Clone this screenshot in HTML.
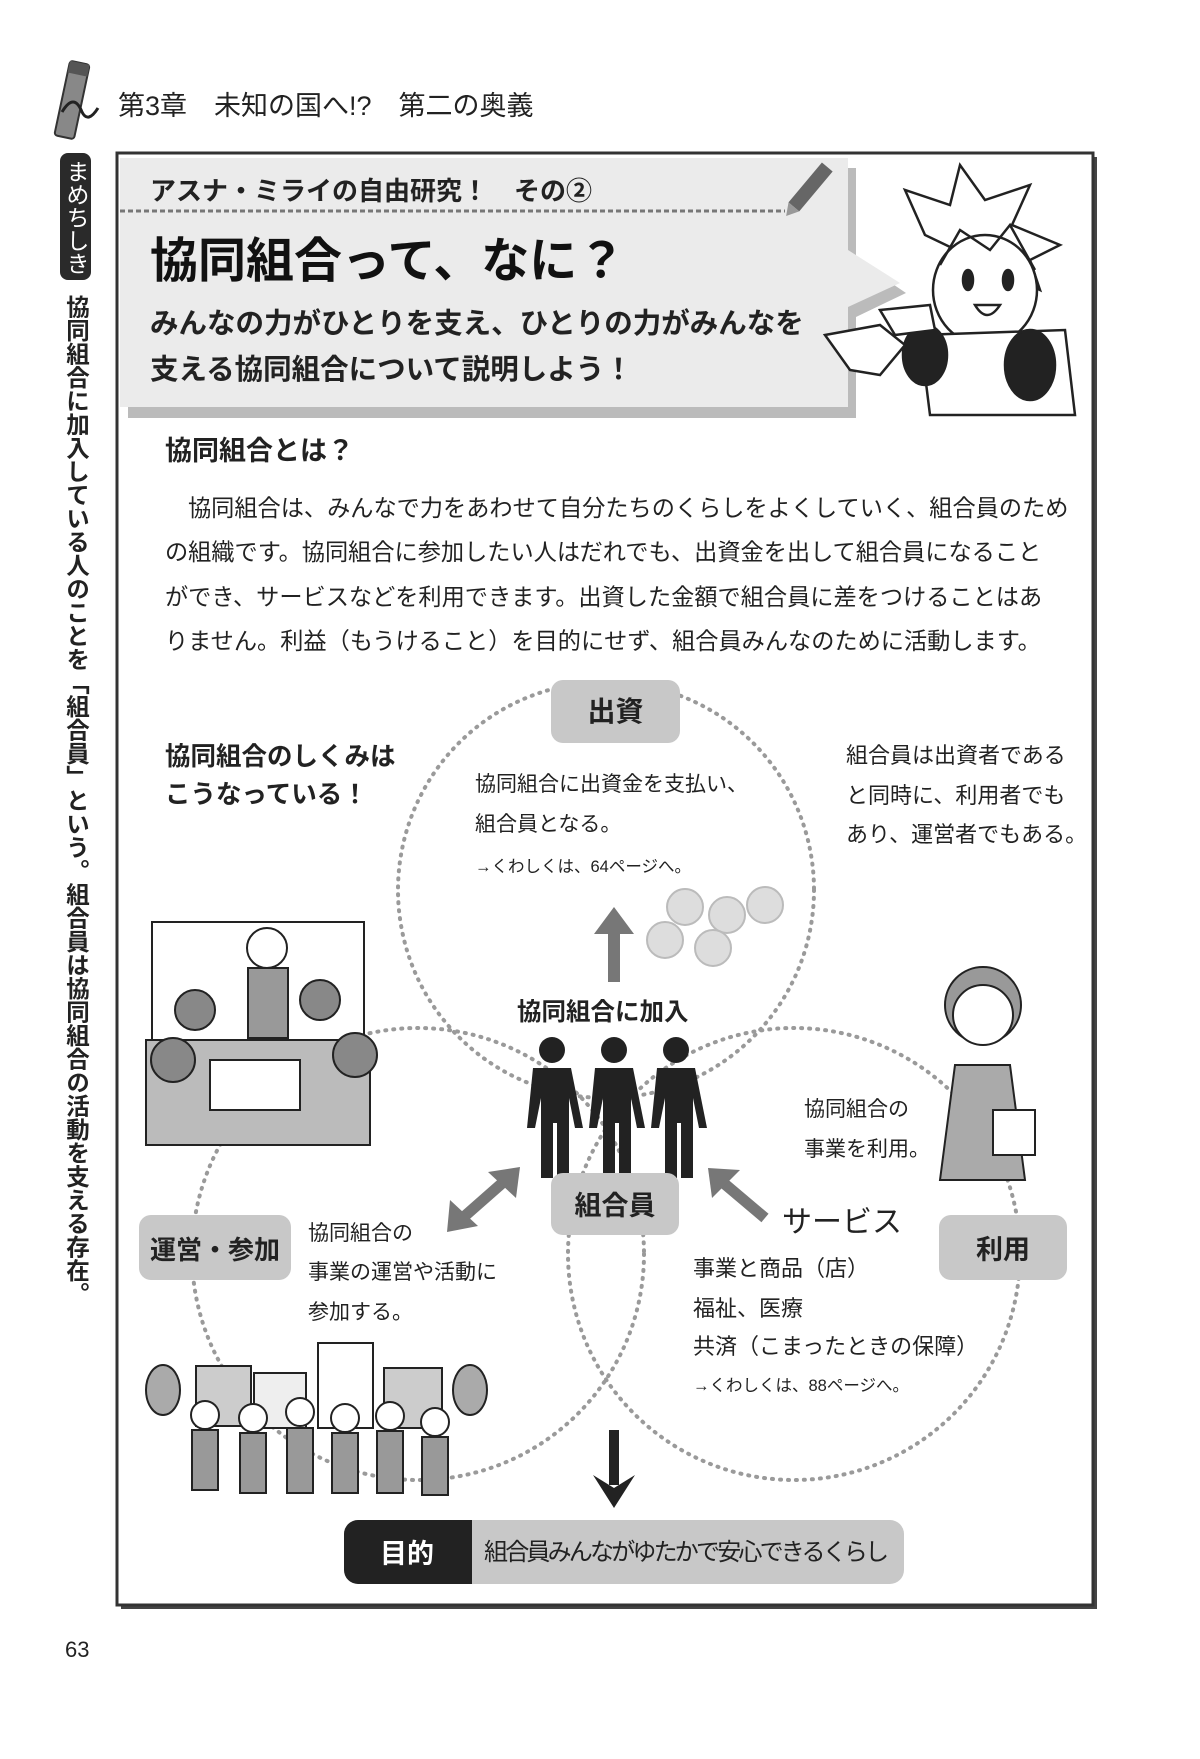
<!DOCTYPE html>
<html><head><meta charset="utf-8">
<style>
*{margin:0;padding:0;box-sizing:border-box}
body{width:1200px;height:1759px;background:#fff;position:relative;overflow:hidden;font-family:"Liberation Sans","Noto Sans CJK JP",sans-serif;color:#222}
.a{position:absolute;white-space:nowrap}
.b{font-weight:bold}
.box{position:absolute;background:#c8c8c8;border-radius:12px;text-align:center;font-weight:bold;color:#222}
.p{position:absolute;white-space:nowrap;font-size:23.2px;line-height:28px}
</style></head><body>
<svg class="a" style="left:0;top:0" width="1200" height="1759">
 <g transform="translate(72,100) rotate(12)">
  <rect x="-10" y="-38" width="20" height="76" rx="3" fill="#888" stroke="#333" stroke-width="2"/>
  <rect x="-10" y="-38" width="20" height="12" fill="#555"/>
 </g>
 <path d="M62 112 q12 -20 20 0 q6 12 16 -4" fill="none" stroke="#222" stroke-width="3"/>
 <rect x="121" y="157" width="976" height="1452" fill="#444"/>
 <rect x="117" y="153" width="976" height="1452" fill="#fff" stroke="#333" stroke-width="3"/>
 <path d="M124 163 H852 V254 L902 288 L852 312 V413 H124 Z" fill="#bbb" transform="translate(4,5)"/>
 <path d="M120 158 H848 V250 L900 283 L848 307 V407 H120 Z" fill="#ebebeb"/>
 <line x1="120" y1="211" x2="785" y2="211" stroke="#777" stroke-width="3" stroke-dasharray="5,3"/>
 <g transform="translate(808,190) rotate(40)">
  <rect x="-7" y="-30" width="14" height="52" fill="#666"/>
  <path d="M-7 22 L0 34 L7 22 Z" fill="#999"/>
 </g>
 <g stroke="#222" stroke-width="2.5" fill="#fff">
  <path d="M925 235 L905 190 L950 205 L960 165 L985 200 L1030 185 L1012 225 L1060 245 L1030 260 L1040 290 Z"/>
  <ellipse cx="985" cy="290" rx="52" ry="55"/>
  <path d="M940 265 L960 230 L990 250 L1010 225 L1035 270" fill="none"/>
  <ellipse cx="968" cy="280" rx="5" ry="10" fill="#222"/>
  <ellipse cx="1008" cy="280" rx="5" ry="10" fill="#222"/>
  <path d="M975 305 q12 20 25 0 z"/>
  <path d="M920 335 L1065 330 L1075 415 L930 415 Z"/>
  <ellipse cx="925" cy="355" rx="22" ry="30" fill="#222"/>
  <ellipse cx="1030" cy="365" rx="25" ry="35" fill="#222"/>
  <path d="M825 335 L880 325 L905 345 L880 375 L850 370 Z"/>
  <path d="M880 310 L930 305 L935 330 L895 335 Z"/>
 </g>
 <g fill="none" stroke="#9a9a9a" stroke-width="4" stroke-dasharray="1,7" stroke-linecap="round">
  <circle cx="606" cy="890" r="208"/>
  <circle cx="418" cy="1254" r="226"/>
  <circle cx="794" cy="1254" r="226"/>
 </g>
 <g fill="#ddd" stroke="#bbb" stroke-width="2">
  <circle cx="685" cy="907" r="18"/><circle cx="727" cy="915" r="18"/><circle cx="765" cy="905" r="18"/>
  <circle cx="665" cy="940" r="18"/><circle cx="713" cy="948" r="18"/>
 </g>
 <g fill="#777"><rect x="608" y="925" width="12" height="57"/><path d="M594 934 L614 907 L634 934 Z"/></g>
 <g fill="#222">
  <circle cx="552" cy="1050" r="13"/><path d="M533 1068 h38 l12 60 h-8 l-6 -30 v80 h-12 v-55 h-4 v55 h-12 v-80 l-6 30 h-8 z"/>
  <circle cx="614" cy="1050" r="13"/><path d="M595 1068 h38 l12 60 h-8 l-6 -30 v80 h-12 v-55 h-4 v55 h-12 v-80 l-6 30 h-8 z"/>
  <circle cx="676" cy="1050" r="13"/><path d="M657 1068 h38 l12 60 h-8 l-6 -30 v80 h-12 v-55 h-4 v55 h-12 v-80 l-6 30 h-8 z"/>
 </g>
 <line x1="458" y1="1222" x2="508" y2="1178" stroke="#777" stroke-width="11"/>
 <path d="M447 1232 L450 1200 L478 1226 Z" fill="#777"/>
 <path d="M520 1167 L516 1198 L488 1172 Z" fill="#777"/>
 <line x1="765" y1="1218" x2="720" y2="1180" stroke="#777" stroke-width="11"/>
 <path d="M708 1168 L740 1170 L712 1198 Z" fill="#777"/>
 <g fill="#222"><rect x="609" y="1430" width="10" height="55"/><path d="M593 1475 L614 1508 L635 1475 L614 1488 Z"/></g>
 <g stroke="#222" stroke-width="2">
  <rect x="152" y="922" width="212" height="125" fill="#fff"/>
  <rect x="146" y="1040" width="224" height="105" fill="#bbb"/>
  <circle cx="267" cy="948" r="20" fill="#fff"/><rect x="248" y="968" width="40" height="70" fill="#999"/>
  <circle cx="195" cy="1010" r="20" fill="#888"/><circle cx="320" cy="1000" r="20" fill="#888"/>
  <circle cx="173" cy="1060" r="22" fill="#888"/><circle cx="355" cy="1055" r="22" fill="#888"/>
  <rect x="210" y="1060" width="90" height="50" fill="#fff"/>
 </g>
 <g stroke="#222" stroke-width="2">
  <circle cx="983" cy="1005" r="38" fill="#999"/><circle cx="983" cy="1015" r="30" fill="#fff"/>
  <path d="M955 1065 h55 l15 115 h-85 z" fill="#aaa"/>
  <rect x="993" y="1110" width="42" height="45" fill="#fff"/>
 </g>
 <g stroke="#222" stroke-width="2" fill="#ccc">
  <rect x="196" y="1366" width="55" height="60"/><rect x="254" y="1373" width="52" height="55" fill="#eee"/>
  <rect x="318" y="1343" width="55" height="85" fill="#fff"/><rect x="384" y="1368" width="58" height="60"/>
  <ellipse cx="163" cy="1390" rx="17" ry="25" fill="#aaa"/><ellipse cx="470" cy="1390" rx="17" ry="25" fill="#aaa"/>
  <g fill="#999">
   <circle cx="205" cy="1415" r="14" fill="#fff"/><rect x="192" y="1430" width="26" height="60"/>
   <circle cx="253" cy="1418" r="14" fill="#fff"/><rect x="240" y="1433" width="26" height="60"/>
   <circle cx="300" cy="1412" r="14" fill="#fff"/><rect x="287" y="1428" width="26" height="65"/>
   <circle cx="345" cy="1418" r="14" fill="#fff"/><rect x="332" y="1433" width="26" height="60"/>
   <circle cx="390" cy="1416" r="14" fill="#fff"/><rect x="377" y="1431" width="26" height="62"/>
   <circle cx="435" cy="1422" r="14" fill="#fff"/><rect x="422" y="1437" width="26" height="58"/>
  </g>
 </g>
 <rect x="344" y="1520" width="560" height="64" rx="14" fill="#c8c8c8"/>
 <path d="M358 1520 H472 V1584 H358 a14 14 0 0 1 -14 -14 V1534 a14 14 0 0 1 14 -14 Z" fill="#222"/>
</svg>

<div class="a" style="left:118px;top:92px;font-size:27px;line-height:28px">第3章　未知の国へ!?　第二の奥義</div>
<div class="a" style="left:60px;top:153px;width:31px;height:127px;background:#2a2a2a;border-radius:8px"></div>
<div class="a" style="left:63px;top:160px;writing-mode:vertical-rl;color:#fff;font-size:23px;line-height:25px">まめちしき</div>
<div class="a" style="left:62px;top:295px;writing-mode:vertical-rl;font-size:23.5px;line-height:28px;font-weight:bold">協同組合に加入している人のことを「組合員」という。組合員は協同組合の活動を支える存在。</div>

<div class="a b" style="left:150px;top:177px;font-size:26px;line-height:28px">アスナ・ミライの自由研究！　その②</div>
<div class="a b" style="left:150px;top:236px;font-size:48px;line-height:52px;color:#111">協同組合って、なに？</div>
<div class="a b" style="left:150px;top:308px;font-size:28.5px;line-height:32px">みんなの力がひとりを支え、ひとりの力がみんなを</div>
<div class="a b" style="left:150px;top:354px;font-size:28.5px;line-height:32px">支える協同組合について説明しよう！</div>

<div class="a b" style="left:165px;top:436px;font-size:27px;line-height:30px">協同組合とは？</div>
<div class="p" style="left:188px;top:494px">協同組合は、みんなで力をあわせて自分たちのくらしをよくしていく、組合員のため</div>
<div class="p" style="left:165px;top:538px">の組織です。協同組合に参加したい人はだれでも、出資金を出して組合員になること</div>
<div class="p" style="left:165px;top:583px">ができ、サービスなどを利用できます。出資した金額で組合員に差をつけることはあ</div>
<div class="p" style="left:165px;top:627px">りません。利益（もうけること）を目的にせず、組合員みんなのために活動します。</div>

<div class="box" style="left:551px;top:680px;width:129px;height:63px;font-size:28px;line-height:63px">出資</div>
<div class="a b" style="left:165px;top:743px;font-size:25.5px;line-height:28px">協同組合のしくみは</div>
<div class="a b" style="left:165px;top:781px;font-size:25.5px;line-height:28px">こうなっている！</div>
<div class="a" style="left:475px;top:773px;font-size:21px;line-height:24px">協同組合に出資金を支払い、</div>
<div class="a" style="left:475px;top:813px;font-size:21px;line-height:24px">組合員となる。</div>
<div class="a" style="left:475px;top:857px;font-size:16.5px;line-height:20px">→くわしくは、64ページへ。</div>
<div class="a" style="left:846px;top:743px;font-size:22px;line-height:26px">組合員は出資者である</div>
<div class="a" style="left:846px;top:783px;font-size:22px;line-height:26px">と同時に、利用者でも</div>
<div class="a" style="left:846px;top:822px;font-size:22px;line-height:26px">あり、運営者でもある。</div>

<div class="a b" style="left:517px;top:999px;font-size:24.5px;line-height:28px">協同組合に加入</div>
<div class="box" style="left:551px;top:1173px;width:128px;height:62px;font-size:27px;line-height:66px">組合員</div>
<div class="a" style="left:804px;top:1098px;font-size:21px;line-height:24px">協同組合の</div>
<div class="a" style="left:804px;top:1138px;font-size:21px;line-height:24px">事業を利用。</div>
<div class="a" style="left:782px;top:1207px;font-size:30px;line-height:32px">サービス</div>
<div class="box" style="left:139px;top:1215px;width:152px;height:65px;font-size:26px;line-height:70px">運営・参加</div>
<div class="box" style="left:939px;top:1215px;width:128px;height:65px;font-size:27px;line-height:70px">利用</div>
<div class="a" style="left:308px;top:1222px;font-size:21px;line-height:24px">協同組合の</div>
<div class="a" style="left:308px;top:1261px;font-size:21px;line-height:24px">事業の運営や活動に</div>
<div class="a" style="left:308px;top:1301px;font-size:21px;line-height:24px">参加する。</div>
<div class="a" style="left:693px;top:1256px;font-size:22px;line-height:26px">事業と商品（店）</div>
<div class="a" style="left:693px;top:1296px;font-size:22px;line-height:26px">福祉、医療</div>
<div class="a" style="left:693px;top:1334px;font-size:22px;line-height:26px">共済（こまったときの保障）</div>
<div class="a" style="left:693px;top:1376px;font-size:16.5px;line-height:20px">→くわしくは、88ページへ。</div>

<div class="a b" style="left:380px;top:1538px;font-size:27px;line-height:32px;color:#fff">目的</div>
<div class="a" style="left:484px;top:1538px;font-size:24px;line-height:30px;letter-spacing:-2.8px">組合員みんながゆたかで安心できるくらし</div>

<div class="a" style="left:65px;top:1637px;font-size:22px;line-height:26px">63</div>
</body></html>
